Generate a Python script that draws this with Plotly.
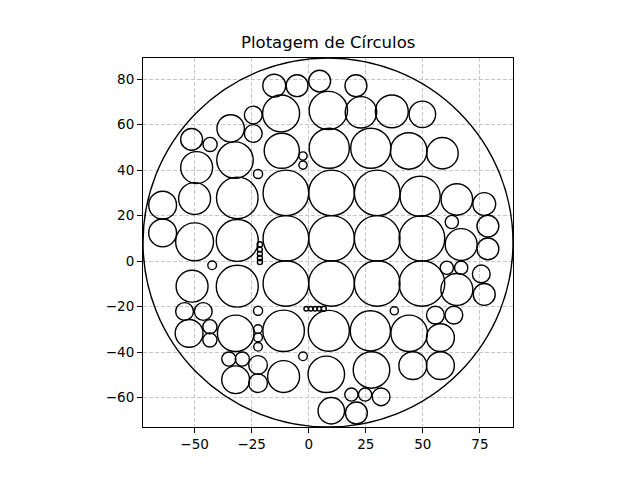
import plotly.graph_objects as go

# Boundary circle
outer_cx = 8.45
outer_cy = 8.2
outer_r = 81.05

# Packed circles (center x, center y, radius)
circle_x = [
    -15.1, -5.1, 4.8, 20.7,
    -24.3, -12.1, 8.6, 22.9, 36.4, 49.8,
    -34.2, -51.3, -43.2, -24.3,
    -11.8, 9.0, 27.2, 43.8, 58.6,
    -2.5, -2.5, -32.3, -49.1, -50.0, -31.3, -22.2,
    -10.0, 10.0, 30.0, 48.8, 64.9, 76.9,
    -64.0, -64.0, -50.0, -31.3,
    -10.0, 10.0, 30.0, 49.6,
    62.7, 78.5, 66.8, 78.5,
    -21.4, -21.4, -21.4, -21.4, -21.4,
    -42.3, -51.1, -31.3,
    -10.0, 10.0, 30.0, 49.6,
    60.5, 66.8, 75.6, 64.9, 76.9,
    -54.4, -46.2, -52.4, -43.3, -43.3, -32.0,
    -22.2, -22.2, -22.2, -22.2,
    -11.0, 8.8, 27.0, 44.0, 57.7, 55.5, 63.6, 37.5,
    -1.1, 0.9, 2.8, 4.6, 6.6,
    -35.0, -29.1, -32.0, -22.2, -22.2,
    -11.0, -2.5, 7.7, 27.5, 45.6, 57.7,
    9.9, 20.9, 18.7, 24.7, 31.7,
]
circle_y = [
    77.1, 77.1, 79.1, 77.1,
    64.2, 64.9, 66.2, 65.4, 65.8, 64.5,
    58.3, 53.5, 51.3, 56.1,
    48.5, 49.6, 49.6, 48.4, 47.4,
    46.2, 42.2, 44.4, 41.1, 27.5, 27.8, 38.3,
    30.0, 30.0, 30.0, 28.5, 27.1, 25.1,
    24.6, 12.4, 8.5, 9.1,
    10.0, 10.0, 10.0, 10.0,
    17.2, 15.4, 7.3, 5.4,
    7.3, 5.1, 3.2, 1.4, -0.4,
    -1.8, -11.0, -11.0,
    -9.8, -9.8, -9.8, -9.8,
    -2.9, -2.9, -5.6, -12.4, -14.6,
    -22.1, -22.1, -31.7, -28.8, -34.6, -31.7,
    -21.8, -29.8, -33.5, -37.6,
    -30.6, -30.6, -30.6, -31.7, -33.6, -23.7, -23.7, -21.8,
    -20.9, -20.9, -20.9, -20.9, -20.9,
    -43.0, -43.0, -52.1, -45.6, -53.6,
    -50.7, -41.8, -49.7, -47.8, -45.9, -45.9,
    -65.7, -66.7, -58.6, -58.6, -59.6,
]
circle_r = [
    5.0, 4.8, 4.8, 4.8,
    3.9, 8.1, 8.4, 6.9, 7.2, 5.8,
    6.0, 4.8, 3.1, 3.9,
    7.7, 8.8, 8.8, 8.0, 6.9,
    1.8, 1.8, 8.0, 7.0, 7.0, 9.1, 2.0,
    10.0, 10.0, 10.0, 8.8, 6.9, 5.0,
    6.1, 6.1, 8.3, 9.2,
    10.0, 10.0, 10.0, 10.0,
    2.9, 4.8, 7.0, 4.8,
    1.2, 1.1, 1.1, 1.1, 1.1,
    1.9, 7.0, 9.2,
    10.0, 10.0, 10.0, 10.0,
    2.9, 2.9, 3.9, 7.0, 4.8,
    3.9, 3.9, 6.1, 3.1, 3.1, 8.0,
    2.0, 1.9, 1.9, 1.9,
    9.1, 9.0, 8.8, 8.0, 6.1, 3.9, 3.9, 1.8,
    1.0, 1.0, 1.0, 1.0, 1.1,
    3.1, 3.1, 6.1, 4.1, 4.1,
    7.0, 1.9, 8.0, 8.0, 6.1, 6.1,
    5.8, 4.8, 2.9, 2.9, 3.9,
]

x_ticks = [-50, -25, 0, 25, 50, 75]
y_ticks = [-60, -40, -20, 0, 20, 40, 60, 80]

shapes = []
for cx, cy, r in zip(circle_x, circle_y, circle_r):
    shapes.append(dict(type="circle", xref="x", yref="y",
                       x0=cx - r, x1=cx + r, y0=cy - r, y1=cy + r,
                       line=dict(color="black", width=1.4), layer="above"))
shapes.append(dict(type="circle", xref="x", yref="y",
                   x0=outer_cx - outer_r, x1=outer_cx + outer_r,
                   y0=outer_cy - outer_r, y1=outer_cy + outer_r,
                   line=dict(color="black", width=1.4), layer="above"))

fig = go.Figure()
fig.add_trace(go.Scatter(x=[], y=[], mode="markers", showlegend=False))

axis_common = dict(
    showline=True, mirror=True, linecolor="black", linewidth=1,
    ticks="outside", ticklen=5, tickwidth=1, tickcolor="black",
    showgrid=True, gridcolor="#c6c6c6", gridwidth=1, griddash="4px,2px",
    zeroline=False,
    tickfont=dict(family="DejaVu Sans", size=13.5, color="black"),
)

fig.update_layout(
    width=640, height=480,
    margin=dict(l=143, r=127, t=58, b=53),
    plot_bgcolor="white", paper_bgcolor="white",
    shapes=shapes,
    xaxis=dict(range=[outer_cx - outer_r, outer_cx + outer_r],
               tickvals=x_ticks, **axis_common),
    yaxis=dict(range=[outer_cy - outer_r, outer_cy + outer_r],
               tickvals=y_ticks, **axis_common),
    annotations=[dict(text="Plotagem de Círculos", xref="paper", yref="paper",
                      x=0.5, y=1, xanchor="center", yanchor="bottom", yshift=4,
                      showarrow=False,
                      font=dict(family="DejaVu Sans", size=16.5, color="black"))],
    showlegend=False,
)

fig.write_html("out.html",
               config={"displayModeBar": False},
               post_script="document.body.style.margin='0';document.body.style.overflow='hidden';")
